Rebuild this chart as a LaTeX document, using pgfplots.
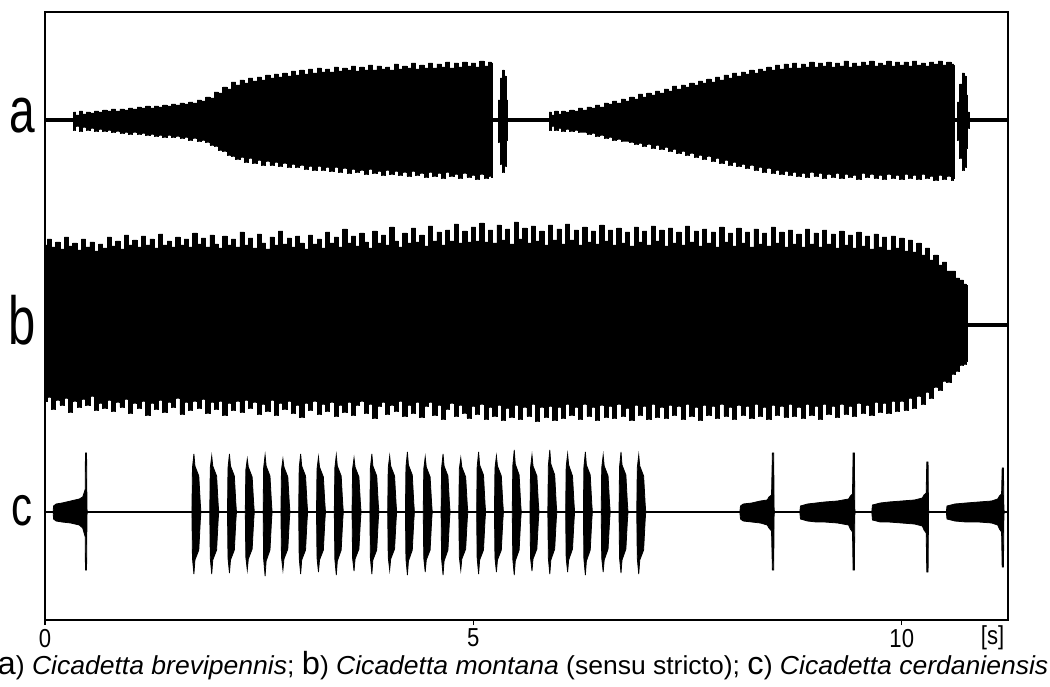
\documentclass[border=0pt]{standalone}
\usepackage{fontspec}
\setmainfont{Liberation Sans}
\usepackage{graphicx}
\usepackage{pgfplots}
\usepackage{pgfplotstable}
\pgfplotsset{compat=1.18}
\usepgfplotslibrary{fillbetween}

% trace a : s = time [s], u = upper amplitude, l = lower amplitude (px)
\pgfplotstableread{
s u l
0 0 0
0.33 0 0
0.34 8 10
0.38 5 6
0.42 9 11
0.46 6 7
0.50 8 10
0.55 7 8
0.60 9 11
0.65 8 9
0.70 10 11
0.75 9 10
0.80 11 12
0.85 9 11
0.90 11 13
0.95 10 12
1.00 12 14
1.05 11 12
1.10 13 14
1.15 12 13
1.20 14 15
1.25 12 14
1.30 14 16
1.35 13 15
1.40 15 17
1.45 14 15
1.50 16 17
1.55 15 16
1.60 17 18
1.65 16 17
1.70 18 20
1.75 17 18
1.80 20 21
1.85 19 20
1.90 23 22
1.95 22 25
2.00 28 26
2.05 27 30
2.10 33 31
2.15 31 35
2.20 38 36
2.25 35 39
2.30 40 37
2.35 37 42
2.40 42 38
2.45 39 43
2.50 43 40
2.55 40 45
2.60 45 41
2.65 42 45
2.70 46 42
2.75 43 46
2.80 47 43
2.85 44 47
2.90 49 44
2.95 45 47
3.00 50 45
3.05 46 49
3.10 51 46
3.15 47 50
3.20 52 46
3.25 48 50
3.30 51 47
3.35 48 51
3.40 53 47
3.45 49 52
3.50 52 48
3.55 50 53
3.60 54 49
3.65 49 52
3.70 53 50
3.75 50 54
3.80 55 49
3.85 50 53
3.90 54 51
3.95 51 55
4.00 53 50
4.05 50 54
4.10 56 51
4.15 51 55
4.20 54 52
4.25 52 56
4.30 57 51
4.35 51 55
4.40 55 53
4.45 52 57
4.50 57 52
4.55 52 56
4.60 56 53
4.65 53 58
4.70 58 52
4.75 52 56
4.80 57 54
4.85 53 58
4.90 58 53
4.95 54 57
5.00 57 55
5.05 53 59
5.10 59 54
5.15 54 58
5.20 58 56
5.22 57 57
5.23 0 0
5.28 0 0
5.30 20 22
5.33 42 44
5.35 50 52
5.37 44 46
5.39 20 20
5.41 0 0
5.88 0 0
5.89 8 10
5.93 5 6
5.97 9 10
6.01 6 8
6.05 9 11
6.10 8 9
6.15 10 11
6.20 9 10
6.25 12 12
6.30 10 12
6.35 13 14
6.40 12 13
6.45 15 16
6.50 13 15
6.55 17 18
6.60 16 17
6.65 19 20
6.70 17 19
6.75 21 21
6.80 19 21
6.85 23 22
6.90 21 24
6.95 26 23
7.00 23 26
7.05 27 24
7.10 25 28
7.15 29 25
7.20 27 29
7.25 31 27
7.30 29 31
7.35 34 29
7.40 31 33
7.45 35 31
7.50 33 35
7.55 37 33
7.60 35 37
7.65 39 35
7.70 37 39
7.75 41 36
7.80 38 41
7.85 43 38
7.90 40 43
7.95 45 40
8.00 42 45
8.05 47 42
8.10 44 46
8.15 48 44
8.20 46 48
8.25 50 45
8.30 47 50
8.35 51 47
8.40 49 52
8.45 53 48
8.50 50 53
8.55 55 50
8.60 51 54
8.65 56 51
8.70 52 55
8.75 57 52
8.80 52 56
8.85 56 53
8.90 53 57
8.95 58 52
9.00 53 56
9.05 57 53
9.10 54 58
9.15 58 54
9.20 53 57
9.25 57 53
9.30 54 58
9.35 59 54
9.40 53 57
9.45 57 55
9.50 54 59
9.55 58 53
9.60 55 57
9.65 59 54
9.70 54 58
9.75 57 55
9.80 55 59
9.85 59 54
9.90 54 58
9.95 58 55
10.00 55 59
10.05 58 54
10.10 54 58
10.15 59 55
10.20 55 59
10.25 57 54
10.30 54 58
10.35 58 56
10.40 56 60
10.45 59 55
10.50 55 59
10.55 58 56
10.60 56 60
10.61 55 58
10.62 0 0
10.64 0 0
10.66 18 20
10.69 36 38
10.72 47 50
10.74 44 47
10.76 25 28
10.78 8 8
10.79 0 0
11.24 0 0
}\tA

% trace b
\pgfplotstableread{
s u l
0.00 80 76
0.05 86 72
0.10 78 84
0.15 83 75
0.20 76 80
0.25 88 73
0.30 79 87
0.35 82 76
0.40 75 82
0.45 86 74
0.50 78 80
0.55 83 71
0.60 74 85
0.65 81 78
0.70 77 83
0.75 88 75
0.80 79 86
0.85 84 77
0.90 76 82
0.95 90 74
1.00 80 88
1.05 85 78
1.10 78 83
1.15 89 76
1.20 80 90
1.25 86 78
1.30 77 84
1.35 91 75
1.40 80 87
1.45 84 77
1.50 78 82
1.55 88 73
1.60 80 89
1.65 86 77
1.70 78 85
1.75 92 76
1.80 81 83
1.85 87 74
1.90 78 88
1.95 90 77
2.00 81 84
2.05 77 76
2.10 89 90
2.15 80 78
2.20 86 85
2.25 78 76
2.30 93 87
2.35 80 75
2.40 87 83
2.45 77 77
2.50 91 89
2.55 82 79
2.60 76 86
2.65 88 75
2.70 80 90
2.75 94 78
2.80 81 84
2.85 87 76
2.90 78 88
2.95 89 80
3.00 82 92
3.05 76 78
3.10 90 85
3.15 81 76
3.20 86 89
3.25 77 79
3.30 93 86
3.35 82 77
3.40 88 91
3.45 78 80
3.50 96 87
3.55 82 77
3.60 89 90
3.65 79 80
3.70 92 76
3.75 83 88
3.80 77 79
3.85 94 93
3.90 82 81
3.95 90 77
4.00 80 89
4.05 98 80
4.10 84 86
4.15 78 76
4.20 92 91
4.25 82 80
4.30 97 88
4.35 83 77
4.40 90 92
4.45 79 81
4.50 99 77
4.55 84 90
4.60 93 80
4.65 80 94
4.70 95 84
4.75 84 78
4.80 101 91
4.85 82 80
4.90 94 88
4.95 83 93
5.00 98 81
5.05 84 89
5.10 102 79
5.15 83 94
5.20 95 82
5.25 82 91
5.30 100 80
5.35 85 95
5.40 96 83
5.45 81 92
5.50 103 80
5.55 86 94
5.60 97 82
5.65 82 91
5.70 99 79
5.75 84 96
5.80 94 82
5.85 80 92
5.90 100 81
5.95 85 95
6.00 96 82
6.05 81 93
6.10 101 79
6.15 85 90
6.20 95 82
6.25 80 94
6.30 98 79
6.35 83 91
6.40 94 82
6.45 81 95
6.50 100 80
6.55 84 92
6.60 95 81
6.65 80 93
6.70 97 79
6.75 82 91
6.80 93 83
6.85 79 95
6.90 98 80
6.95 83 90
7.00 94 81
7.05 80 94
7.10 99 79
7.15 84 92
7.20 95 82
7.25 79 93
7.30 97 80
7.35 82 90
7.40 93 81
7.45 80 94
7.50 99 79
7.55 83 91
7.60 94 82
7.65 79 95
7.70 96 80
7.75 82 90
7.80 93 81
7.85 78 93
7.90 98 79
7.95 83 91
8.00 92 82
8.05 79 94
8.10 97 80
8.15 82 90
8.20 93 81
8.25 78 93
8.30 96 79
8.35 81 91
8.40 92 82
8.45 79 94
8.50 98 80
8.55 82 90
8.60 93 81
8.65 78 92
8.70 95 79
8.75 81 91
8.80 91 82
8.85 78 93
8.90 96 79
8.95 81 90
9.00 92 81
9.05 78 94
9.10 95 79
9.15 81 89
9.20 91 81
9.25 77 92
9.30 94 79
9.35 80 89
9.40 90 81
9.45 77 91
9.50 93 78
9.55 79 88
9.60 89 80
9.65 76 90
9.70 91 77
9.75 78 87
9.80 88 78
9.85 75 88
9.90 89 76
9.95 77 86
10.00 87 76
10.05 74 85
10.10 85 73
10.15 73 83
10.20 82 71
10.25 70 79
10.30 77 67
10.35 65 73
10.40 70 62
10.45 60 65
10.50 63 56
10.55 54 57
10.60 54 49
10.65 47 46
10.70 45 40
10.74 41 39
10.76 40 36
10.765 0 0
11.24 0 0
}\tB

% trace c
\pgfplotstableread{
s u l
0 0 0
0.095 0 0
0.10 6 7
0.13 8 9
0.20 9 10
0.30 11 11
0.40 13 13
0.44 15 16
0.46 20 22
0.47 23 25
0.472 59 58
0.485 59 58
0.49 3 3
0.495 0 0
1.715 0 0
1.721 44 46
1.738 58 62
1.750 46 48
1.795 36 38
1.813 8 8
1.820 0 0
1.923 0 0
1.929 44 46
1.946 56 62
1.958 46 48
2.003 36 38
2.021 8 8
2.028 0 0
2.130 0 0
2.136 44 46
2.153 58 61
2.165 46 48
2.210 36 38
2.228 8 8
2.235 0 0
2.338 0 0
2.344 42 45
2.361 53 58
2.373 45 47
2.418 35 37
2.436 8 8
2.443 0 0
2.546 0 0
2.552 44 47
2.569 57 64
2.581 46 49
2.626 36 38
2.644 8 8
2.651 0 0
2.754 0 0
2.760 42 45
2.777 53 58
2.789 45 47
2.834 35 37
2.852 8 8
2.859 0 0
2.961 0 0
2.967 44 46
2.984 58 62
2.996 46 48
3.041 36 38
3.059 8 8
3.066 0 0
3.169 0 0
3.175 43 46
3.192 55 60
3.204 45 48
3.249 35 38
3.267 8 8
3.274 0 0
3.377 0 0
3.383 44 47
3.400 57 63
3.412 46 49
3.457 36 38
3.475 8 8
3.482 0 0
3.584 0 0
3.590 43 46
3.607 54 59
3.619 45 47
3.664 35 37
3.682 8 8
3.689 0 0
3.792 0 0
3.798 44 46
3.815 58 62
3.827 46 48
3.872 36 38
3.890 8 8
3.897 0 0
4.000 0 0
4.006 44 45
4.023 56 58
4.035 46 47
4.080 36 37
4.098 8 8
4.105 0 0
4.207 0 0
4.213 45 47
4.230 60 63
4.242 47 49
4.287 37 38
4.305 8 8
4.312 0 0
4.415 0 0
4.421 43 46
4.438 55 60
4.450 45 48
4.495 35 38
4.513 8 8
4.520 0 0
4.623 0 0
4.629 44 47
4.646 58 63
4.658 46 49
4.703 36 38
4.721 8 8
4.728 0 0
4.830 0 0
4.836 43 45
4.853 54 58
4.865 45 47
4.910 35 37
4.928 8 8
4.935 0 0
5.038 0 0
5.044 45 46
5.061 60 62
5.073 47 48
5.118 37 38
5.136 8 8
5.143 0 0
5.246 0 0
5.252 44 46
5.269 56 60
5.281 46 48
5.326 36 38
5.344 8 8
5.351 0 0
5.454 0 0
5.460 46 47
5.477 62 63
5.489 48 49
5.534 37 38
5.552 8 8
5.559 0 0
5.661 0 0
5.667 44 46
5.684 57 59
5.696 46 47
5.741 36 37
5.759 8 8
5.766 0 0
5.869 0 0
5.875 46 46
5.892 62 62
5.904 48 48
5.949 37 37
5.967 8 8
5.974 0 0
6.077 0 0
6.083 45 46
6.100 58 60
6.112 47 48
6.157 36 37
6.175 8 8
6.182 0 0
6.284 0 0
6.290 45 47
6.307 60 63
6.319 47 49
6.364 37 38
6.382 8 8
6.389 0 0
6.492 0 0
6.498 44 46
6.515 57 60
6.527 46 48
6.572 36 37
6.590 8 8
6.597 0 0
6.700 0 0
6.706 45 46
6.723 60 61
6.735 47 48
6.780 37 37
6.798 8 8
6.805 0 0
6.907 0 0
6.913 44 46
6.930 57 62
6.942 46 48
6.987 36 38
7.005 8 8
7.012 0 0
8.110 0 0
8.118 6 7
8.150 8 9
8.250 9 10
8.350 11 11
8.430 12 13
8.450 15 16
8.480 17 19
8.490 59 58
8.505 59 58
8.510 3 3
8.515 0 0
8.810 0 0
8.818 6 7
8.900 8 9
9.000 9 10
9.100 10 10
9.250 11 11
9.380 13 13
9.400 16 17
9.425 18 20
9.432 59 58
9.447 59 58
9.452 3 3
9.457 0 0
9.650 0 0
9.658 7 8
9.750 9 10
9.850 10 10
10.000 11 11
10.150 12 12
10.240 14 14
10.260 17 18
10.285 19 21
10.292 50 60
10.307 50 60
10.312 3 3
10.317 0 0
10.520 0 0
10.528 6 7
10.620 8 9
10.750 9 10
10.900 10 10
11.050 11 11
11.120 13 13
11.140 16 17
11.165 18 20
11.172 44 55
11.187 44 55
11.192 3 3
11.197 0 0
11.24 0 0
}\tC

\begin{document}
\begin{tikzpicture}
\begin{axis}[
  at={(0pt,0pt)}, anchor=south west,
  scale only axis, width=481.5pt, height=304pt,
  xmin=0, xmax=11.24, ymin=0, ymax=608,
  axis line style={line width=1.1pt, black},
  ytick=\empty,
  xtick={0,5,10}, xticklabels={0,5,10},
  extra x ticks={11.06}, extra x tick labels={[s]},
  extra x tick style={major tick length=0pt, tick label style={yshift=-1pt}},
  xtick pos=left, tick align=outside,
  major tick length=2.5pt,
  tick style={black, line width=0.6pt},
  xticklabel style={font=\fontsize{13}{13}\selectfont, inner sep=1pt, yshift=-0.8pt, xscale=0.85},
]
% baselines
\addplot[black, line width=1.8pt] coordinates {(0,500) (11.24,500)};
\addplot[black, line width=1.8pt] coordinates {(10.7,295) (11.24,295)};
\addplot[black, line width=1.2pt] coordinates {(0,108) (11.24,108)};
% trace a
\addplot[name path=aU, black, line width=0.4pt, const plot mark mid] table[x=s, y expr=500+\thisrow{u}] {\tA};
\addplot[name path=aL, black, line width=0.4pt, const plot mark mid] table[x=s, y expr=500-\thisrow{l}] {\tA};
\addplot[fill=black] fill between[of=aU and aL];
% trace b
\addplot[name path=bU, black, line width=0.4pt, const plot mark mid] table[x=s, y expr=295+\thisrow{u}] {\tB};
\addplot[name path=bL, black, line width=0.4pt, const plot mark mid] table[x=s, y expr=295-\thisrow{l}] {\tB};
\addplot[fill=black] fill between[of=bU and bL];
% trace c
\addplot[name path=cU, black, line width=0.4pt] table[x=s, y expr=108+\thisrow{u}] {\tC};
\addplot[name path=cL, black, line width=0.4pt] table[x=s, y expr=108-\thisrow{l}] {\tC};
\addplot[fill=black] fill between[of=cU and cL];
\end{axis}
% trace letters
\node[anchor=base] at (-11.5pt,243.5pt) {\scalebox{0.72}[1]{\fontsize{32}{32}\selectfont a}};
\node[anchor=base] at (-11.5pt,137.5pt) {\scalebox{0.72}[1]{\fontsize{34}{34}\selectfont b}};
\node[anchor=base] at (-11.5pt,47.5pt) {\scalebox{0.75}[1]{\fontsize{28}{28}\selectfont c}};
% caption
\node[anchor=base] at (239pt,-27pt) {\scalebox{1.02}[1]{\fontsize{13}{13}\selectfont
{\fontsize{16}{16}\selectfont a}) \textit{Cicadetta brevipennis}; {\fontsize{16}{16}\selectfont b}) \textit{Cicadetta montana} (sensu stricto); {\fontsize{16}{16}\selectfont c}) \textit{Cicadetta cerdaniensis}}};
\pgfresetboundingbox
\useasboundingbox (-22.5pt,-33pt) rectangle (502.5pt,310pt);
\end{tikzpicture}
\end{document}
